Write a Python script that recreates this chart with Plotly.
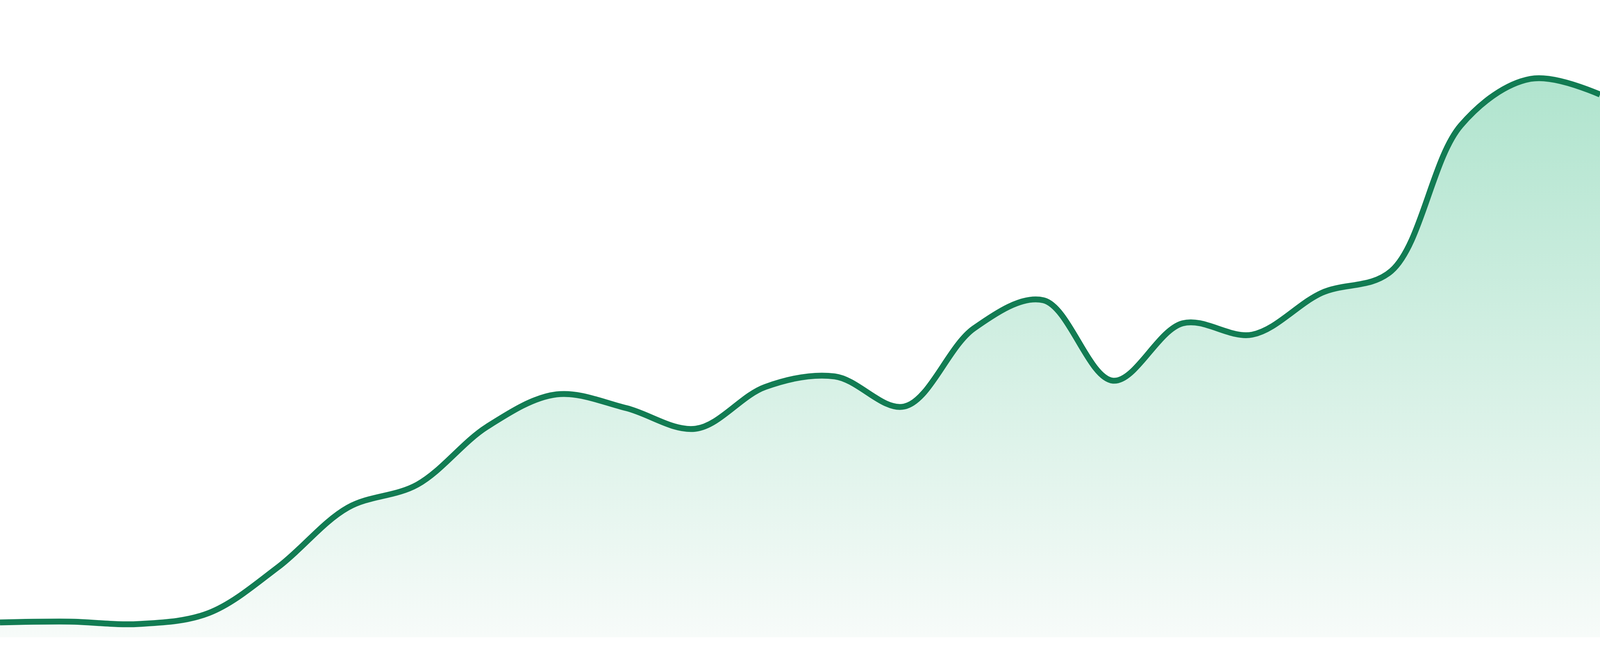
import plotly.graph_objects as go

# Data (24 evenly spaced samples)
periods = list(range(24))
values = [38, 40, 34, 62, 180, 332, 391, 539, 622, 587, 534, 641,
          668, 591, 791, 863, 657, 804, 775, 882, 938, 1311, 1430, 1390]

line_color = "#127c53"
fill_top = "rgb(176,228,206)"
fill_bottom = "rgb(247,251,249)"

fig = go.Figure()
fig.add_trace(go.Scatter(
    x=periods,
    y=values,
    mode="lines",
    line=dict(color=line_color, width=15, shape="spline", smoothing=1.0),
    fill="tozeroy",
    fillgradient=dict(
        type="vertical",
        start=0,
        stop=max(values),
        colorscale=[[0, fill_bottom], [1, fill_top]],
    ),
    hoverinfo="skip",
    showlegend=False,
))

fig.update_layout(
    autosize=True,
    margin=dict(l=0, r=0, t=0, b=0, pad=0),
    paper_bgcolor="white",
    plot_bgcolor="white",
    xaxis=dict(range=[0, 23], visible=False, fixedrange=True, domain=[0, 1]),
    yaxis=dict(range=[0, 1632], visible=False, fixedrange=True,
               domain=[48 / 1680, 1]),
    showlegend=False,
)

post = (
    "document.documentElement.style.margin='0';"
    "document.documentElement.style.overflow='hidden';"
    "document.body.style.margin='0';"
    "document.body.style.overflow='hidden';"
    "var gd=document.getElementById('{plot_id}');"
    "gd.style.width='100vw';gd.style.height='100vh';"
    "Plotly.Plots.resize(gd);"
)

fig.write_html(
    "out.html",
    config={"responsive": True, "displayModeBar": False},
    default_width="100vw",
    default_height="100vh",
    post_script=post,
)
